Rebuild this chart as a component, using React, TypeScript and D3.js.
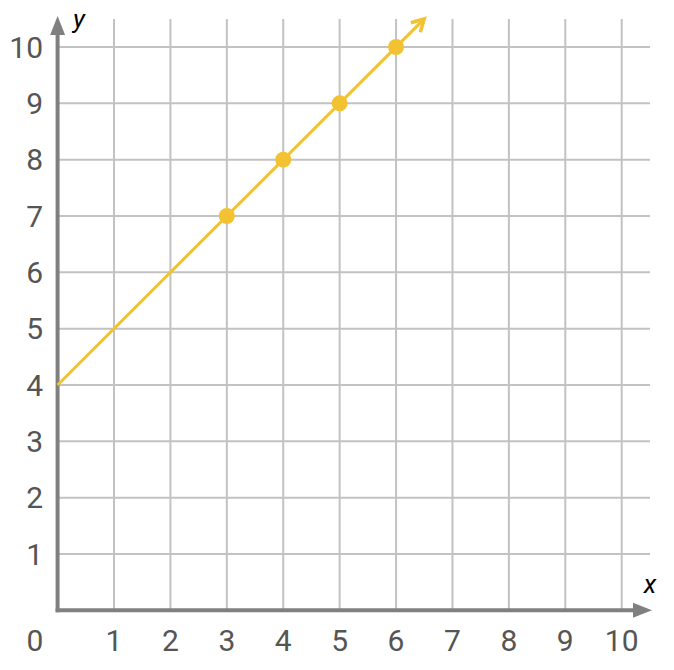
import React from "react";
import * as d3 from "d3";

const xTicks = [1, 2, 3, 4, 5, 6, 7, 8, 9, 10];
const yTicks = [1, 2, 3, 4, 5, 6, 7, 8, 9, 10];
const pointsX = [3, 4, 5, 6];
const pointsY = [7, 8, 9, 10];
const lineStart = [0, 4];
const lineEnd = [6.5, 10.5];

export default function App() {
  const W = 674, H = 670;
  const x = d3.scaleLinear().domain([0, 10]).range([57.6, 621.7]);
  const y = d3.scaleLinear().domain([0, 10]).range([610.3, 47]);
  const gridTop = 19;
  const gridRight = 650;
  const gray = "#808080";
  const yellow = "#F2C232";
  const x0 = x(0), y0 = y(0);
  const lx1 = x(lineStart[0]), ly1 = y(lineStart[1]);
  const lx2 = x(lineEnd[0]), ly2 = y(lineEnd[1]);
  const ang = Math.atan2(ly2 - ly1, lx2 - lx1);
  const ah = 14;
  const a1 = [lx2 - ah * Math.cos(ang - 0.5), ly2 - ah * Math.sin(ang - 0.5)];
  const a2 = [lx2 - ah * Math.cos(ang + 0.5), ly2 - ah * Math.sin(ang + 0.5)];
  return (
    <svg width={W} height={H} style={{ position: "absolute", left: 0, top: 0 }} fontFamily="Roboto, sans-serif">
      <rect width={W} height={H} fill="#fff" />
      {xTicks.map((t) => (
        <line key={"gx" + t} x1={x(t)} x2={x(t)} y1={gridTop} y2={y0} stroke="#c2c2c2" strokeWidth={2} />
      ))}
      {yTicks.map((t) => (
        <line key={"gy" + t} x1={x0} x2={gridRight} y1={y(t)} y2={y(t)} stroke="#c2c2c2" strokeWidth={2} />
      ))}
      <line x1={x0} x2={x0} y1={y0 + 2} y2={34} stroke={gray} strokeWidth={4} />
      <polygon points={`${x0 - 7.5},${35} ${x0 + 7.5},${35} ${x0},${16}`} fill={gray} />
      <line x1={x0 - 2} x2={634} y1={y0} y2={y0} stroke={gray} strokeWidth={4} />
      <polygon points={`${633},${y0 - 7.5} ${633},${y0 + 7.5} ${652},${y0}`} fill={gray} />
      {yTicks.map((t) => (
        <text key={"ly" + t} x={43} y={y(t)} dy="0.36em" textAnchor="end" fontSize={30} fill="#555">
          {t}
        </text>
      ))}
      {xTicks.map((t) => (
        <text key={"lx" + t} x={x(t)} y={651} textAnchor="middle" fontSize={30} fill="#555">
          {t}
        </text>
      ))}
      <text x={35} y={651} textAnchor="middle" fontSize={30} fill="#555">0</text>
      <text x={650} y={593} textAnchor="middle" fontSize={26} fontStyle="italic" fill="#000">x</text>
      <text x={79} y={28} textAnchor="middle" fontSize={26} fontStyle="italic" fill="#000">y</text>
      <line x1={lx1} y1={ly1} x2={lx2} y2={ly2} stroke={yellow} strokeWidth={3} />
      <polyline points={`${a1[0]},${a1[1]} ${lx2},${ly2} ${a2[0]},${a2[1]}`} fill="none" stroke={yellow} strokeWidth={3.5} strokeLinejoin="miter" />
      {pointsX.map((px, i) => (
        <circle key={"p" + i} cx={x(px)} cy={y(pointsY[i])} r={8} fill={yellow} />
      ))}
    </svg>
  );
}
